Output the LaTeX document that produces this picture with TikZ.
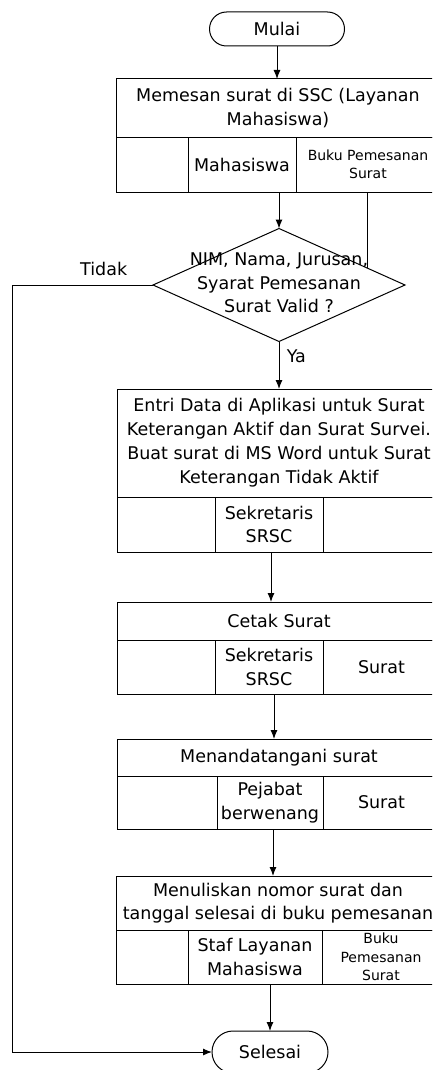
\documentclass[tikz,border=0pt]{standalone}
\usepackage{fontspec}
\setmainfont{DejaVu Sans}
\usetikzlibrary{positioning, shapes.geometric, shapes.misc, arrows.meta, calc}

\tikzset{
  flowline/.style={line width=1pt},
  arrow/.style={flowline, -{Latex[length=9pt,width=7pt]}},
  terminal/.style={draw, flowline, rounded rectangle, inner sep=0pt, outer sep=0pt},
  titlebox/.style={draw, flowline, rectangle, minimum width=324pt, inner sep=1pt,
    outer sep=0pt, align=center, anchor=north west},
  cellbox/.style={draw, flowline, rectangle, minimum height=55pt, inner sep=1pt,
    outer sep=0pt, align=center, anchor=north west},
  smalltext/.style={font=\fontsize{14}{18.5}\selectfont},
  decision/.style={draw, flowline, diamond, inner sep=0pt, outer sep=0pt,
    minimum width=252pt, minimum height=113pt}
}

\begin{document}
\begin{tikzpicture}[x=1pt, y=-1pt, font=\fontsize{17.5}{23.5}\selectfont]
\useasboundingbox (0,0) rectangle (432,1070);
\clip (0,0) rectangle (432,1070);

% start
\node[terminal, minimum width=135pt, minimum height=34pt] (mulai) at (277,29) {Mulai};

% pesan surat
\node[titlebox, minimum height=58pt] (b1) at (116,79) {Memesan surat di SSC (Layanan\\Mahasiswa)};
\node[cellbox, minimum width=72pt] (b1l) at (b1.south west) {};
\node[cellbox, minimum width=108pt, right=0pt of b1l] (b1m) {Mahasiswa};
\node[cellbox, minimum width=144pt, right=0pt of b1m, smalltext] (b1r) {Buku Pemesanan\\Surat};

% cek data
\node[decision] (cek) at (279,285) {};
\node[align=center, inner sep=0pt] (cektxt) at (279,283) {NIM, Nama, Jurusan,\\Syarat Pemesanan\\Surat Valid ?};

% entri data
\node[titlebox, minimum height=108pt, font=\fontsize{17.5}{24}\selectfont] (b2) at (117,389)
  {Entri Data di Aplikasi untuk Surat\\Keterangan Aktif dan Surat Survei.\\Buat surat di MS Word untuk Surat\\Keterangan Tidak Aktif};
\node[cellbox, minimum width=98pt] (b2l) at (b2.south west) {};
\node[cellbox, minimum width=108pt, right=0pt of b2l] (b2m) {Sekretaris\\SRSC};
\node[cellbox, minimum width=117pt, right=0pt of b2m] (b2r) {};

% cetak
\node[titlebox, minimum height=38pt] (b3) at (117,602) {Cetak Surat};
\node[cellbox, minimum width=98pt, minimum height=54pt] (b3l) at (b3.south west) {};
\node[cellbox, minimum width=108pt, minimum height=54pt, right=0pt of b3l] (b3m) {Sekretaris\\SRSC};
\node[cellbox, minimum width=117pt, minimum height=54pt, right=0pt of b3m] (b3r) {Surat};

% tanda tangan
\node[titlebox, minimum height=37pt] (b4) at (117,739) {Menandatangani surat};
\node[cellbox, minimum width=100pt, minimum height=53pt] (b4l) at (b4.south west) {};
\node[cellbox, minimum width=106pt, minimum height=53pt, right=0pt of b4l] (b4m) {Pejabat\\berwenang};
\node[cellbox, minimum width=117pt, minimum height=53pt, right=0pt of b4m] (b4r) {Surat};

% catat di buku
\node[titlebox, minimum height=54pt] (b5) at (116,876) {Menuliskan nomor surat dan\\tanggal selesai di buku pemesanan};
\node[cellbox, minimum width=72pt, minimum height=54pt] (b5l) at (b5.south west) {};
\node[cellbox, minimum width=134pt, minimum height=54pt, right=0pt of b5l] (b5m) {Staf Layanan\\Mahasiswa};
\node[cellbox, minimum width=118pt, minimum height=54pt, right=0pt of b5m, smalltext] (b5r) {Buku\\Pemesanan\\Surat};

% end
\node[terminal, minimum width=116pt, minimum height=42pt] (selesai) at (270,1052) {Selesai};

% connectors
\coordinate (buku) at ($(cek.north)!0.7!(cek.east)$);
\coordinate (kiri) at (12,285);
\draw[arrow] (mulai.south) -- (mulai.south |- b1.north);
\draw[arrow] (cek.north |- b1m.south) -- (cek.north);
\draw[flowline] (buku |- b1r.south) -- (buku);
\draw[arrow] (cek.west) -- node[above, pos=0.35, yshift=5pt] {Tidak} (kiri) |- (selesai.west);
\draw[arrow] (cek.south) -- node[right, pos=0.3, xshift=4pt] {Ya} (cek.south |- b2.north);
\draw[arrow] ([xshift=2pt]b2m.south) -- ([xshift=2pt]b2m.south |- b3.north);
\draw[arrow] ([xshift=5pt]b3m.south) -- ([xshift=5pt]b3m.south |- b4.north);
\draw[arrow] ([xshift=3pt]b4m.south) -- ([xshift=3pt]b4m.south |- b5.north);
\draw[arrow] (selesai.north |- b5m.south) -- (selesai.north);
\end{tikzpicture}
\end{document}
